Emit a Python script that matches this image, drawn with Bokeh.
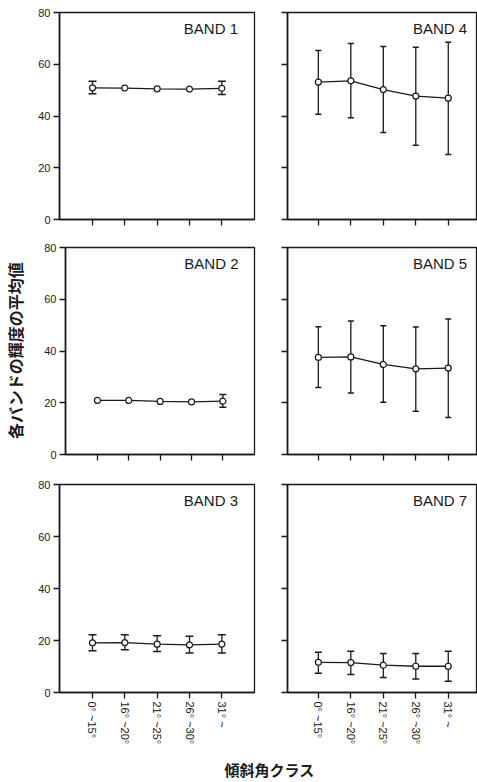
import math
from bokeh.plotting import figure
from bokeh.models import Range1d, FixedTicker, Whisker, ColumnDataSource, Label, TeeHead
from bokeh.layouts import column, row
from bokeh.embed import file_html
from bokeh.resources import INLINE

categories = ["0° ~15°", "16° ~20°", "21° ~25°", "26° ~30°", "31° ~"]
y_ticks = [0, 20, 40, 60, 80]

band1_mean = [50.9, 50.8, 50.5, 50.4, 50.7]
band1_upper = [53.4, None, None, None, 53.4]
band1_lower = [48.6, None, None, None, 48.3]

band2_mean = [20.9, 20.9, 20.5, 20.3, 20.6]
band2_upper = [None, None, None, None, 23.2]
band2_lower = [None, None, None, None, 18.3]

band3_mean = [19.1, 19.2, 18.6, 18.3, 18.6]
band3_upper = [22.2, 22.2, 21.8, 21.6, 22.2]
band3_lower = [16.1, 16.4, 15.8, 15.2, 15.2]

band4_mean = [53.1, 53.6, 50.2, 47.7, 46.9]
band4_upper = [65.3, 68.0, 66.9, 66.6, 68.5]
band4_lower = [40.7, 39.3, 33.6, 28.7, 25.1]

band5_mean = [37.5, 37.7, 34.8, 33.1, 33.4]
band5_upper = [49.4, 51.6, 49.8, 49.3, 52.4]
band5_lower = [25.9, 23.8, 20.2, 16.7, 14.3]

band7_mean = [11.6, 11.5, 10.5, 10.1, 10.1]
band7_upper = [15.5, 15.9, 15.0, 15.0, 15.9]
band7_lower = [7.4, 6.9, 5.8, 5.2, 4.3]

INK = "#1a1a1a"
FONT = "Liberation Sans"
CJK = "Noto Sans CJK JP"


def panel(name, mean, upper, lower, is_left, row_idx, cap=7, ylabel=None):
    tops = [12, 14, 16]
    bottoms = [14, 14, 58]
    frames = [207, 207, 208]
    if is_left:
        bl, fw, br = 59, 195, 5
        xr = Range1d(-1.02, 5.01)
    else:
        bl, fw, br = 28, 190, 0
        xr = Range1d(-0.95, 4.9)
    w = bl + fw + br
    h = tops[row_idx] + frames[row_idx] + bottoms[row_idx]
    p = figure(width=w, height=h, x_range=xr, y_range=Range1d(0, 80),
               output_backend="svg", toolbar_location=None,
               min_border_left=bl, min_border_right=br,
               min_border_top=tops[row_idx], min_border_bottom=bottoms[row_idx])
    p.xgrid.visible = False
    p.ygrid.visible = False
    p.outline_line_color = INK
    p.outline_line_width = 1.3
    p.background_fill_color = "white"
    p.border_fill_color = "white"

    xs = list(range(len(categories)))
    p.line(xs, mean, line_color=INK, line_width=1.3)
    wx = [x for x, u in zip(xs, upper) if u is not None]
    wu = [u for u in upper if u is not None]
    wl = [l for l in lower if l is not None]
    if wx:
        src = ColumnDataSource(data=dict(x=wx, upper=wu, lower=wl))
        wh = Whisker(base="x", upper="upper", lower="lower", source=src,
                     line_color=INK, line_width=1.3,
                     upper_head=TeeHead(size=cap, line_color=INK, line_width=1.5),
                     lower_head=TeeHead(size=cap, line_color=INK, line_width=1.5))
        p.add_layout(wh)
    p.scatter(xs, mean, marker="circle", size=6, fill_color="white",
              line_color=INK, line_width=1.2)

    p.add_layout(Label(x=4.5 if is_left else 4.58, y=74, text=name,
                       text_align="right", text_baseline="middle",
                       text_font=FONT, text_font_size="15px", text_color=INK))

    for ax in (p.xaxis, p.yaxis):
        ax.axis_line_color = INK
        ax.axis_line_width = 1.6
        ax.major_tick_line_color = INK
        ax.major_tick_line_width = 1.3
        ax.major_tick_in = 0
        ax.major_tick_out = 6
        ax.minor_tick_line_color = None
        ax.major_label_text_font = FONT
        ax.major_label_text_font_size = "11px"
        ax.major_label_text_color = INK

    p.xaxis.ticker = FixedTicker(ticks=xs)
    if row_idx == 2:
        p.xaxis.major_label_overrides = {i: c for i, c in enumerate(categories)}
        p.xaxis.major_label_orientation = -math.pi / 2
        p.xaxis.major_label_standoff = 3
    else:
        p.xaxis.major_label_overrides = {i: "" for i in xs}
        p.xaxis.major_label_text_font_size = "0px"

    p.yaxis.ticker = FixedTicker(ticks=y_ticks)
    if not is_left:
        p.yaxis.major_label_overrides = {t: "" for t in y_ticks}
        p.yaxis.major_label_text_font_size = "0px"
    else:
        p.yaxis.major_label_standoff = 3
    if ylabel:
        p.yaxis.axis_label = ylabel
        p.yaxis.axis_label_text_font = CJK
        p.yaxis.axis_label_text_font_size = "16px"
        p.yaxis.axis_label_text_font_style = "bold"
        p.yaxis.axis_label_text_color = INK
        p.yaxis.axis_label_standoff = 14
    return p


p1 = panel("BAND 1", band1_mean, band1_upper, band1_lower, True, 0, cap=8)
p4 = panel("BAND 4", band4_mean, band4_upper, band4_lower, False, 0, cap=6)
p2 = panel("BAND 2", band2_mean, band2_upper, band2_lower, True, 1, cap=7,
           ylabel="各バンドの輝度の平均値")
p5 = panel("BAND 5", band5_mean, band5_upper, band5_lower, False, 1, cap=6)
p3 = panel("BAND 3", band3_mean, band3_upper, band3_lower, True, 2, cap=8)
p7 = panel("BAND 7", band7_mean, band7_upper, band7_lower, False, 2, cap=7)

tf = figure(width=477, height=30, x_range=Range1d(0, 477), y_range=Range1d(0, 30),
            output_backend="svg", toolbar_location=None,
            min_border=0, outline_line_color=None)
tf.axis.visible = False
tf.grid.visible = False
tf.add_layout(Label(x=269, y=11, x_units="screen", y_units="screen",
                    text="傾斜角クラス", text_align="center", text_baseline="middle",
                    text_font=CJK, text_font_size="15px", text_color=INK,
                    text_font_style="bold"))

layout = column(row(p1, p4), row(p2, p5), row(p3, p7), tf)
open("out.html", "w").write(file_html(layout, INLINE))
